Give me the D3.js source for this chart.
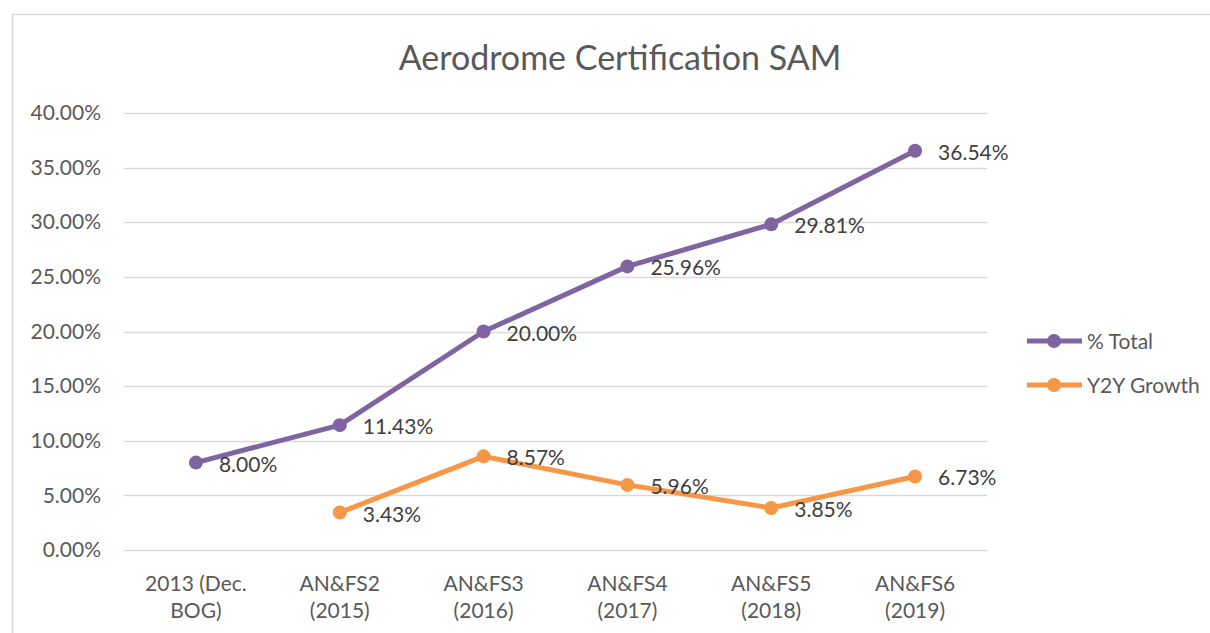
<!DOCTYPE html>
<html>
<head>
<meta charset="utf-8">
<script src="https://cdnjs.cloudflare.com/ajax/libs/d3/7.8.5/d3.min.js"></script>
<style>
  body { margin: 0; background: #fff; }
  svg { display: block; font-family: Lato, "Open Sans", sans-serif; }
</style>
</head>
<body>
<svg width="1210" height="633"></svg>
<script>
// chart data
const categories = [['2013 (Dec.', 'BOG)'], ['AN&FS2', '(2015)'], ['AN&FS3', '(2016)'],
    ['AN&FS4', '(2017)'], ['AN&FS5', '(2018)'], ['AN&FS6', '(2019)']];
const totalValues = [8.00, 11.43, 20.00, 25.96, 29.81, 36.54];
const growthValues = [null, 3.43, 8.57, 5.96, 3.85, 6.73];
const yTicks = [0, 5, 10, 15, 20, 25, 30, 35, 40];
const seriesNames = ['% Total', 'Y2Y Growth'];
const colors = ['#8064A2', '#F79646'];

const svg = d3.select('svg');
const plotLeft = 124, plotRight = 987, plotTop = 113, plotBottom = 550;

// outer chart border
svg.append('rect')
    .attr('x', 12.5).attr('y', 14.5)
    .attr('width', 1210).attr('height', 640)
    .attr('fill', 'none')
    .attr('stroke', '#d9d9d9')
    .attr('stroke-width', 1.5);

svg.append('text')
    .attr('x', 620).attr('y', 70)
    .attr('text-anchor', 'middle')
    .attr('font-size', '34px')
    .attr('fill', '#595959')
    .text('Aerodrome Certification SAM');

const x = d3.scaleBand().domain(d3.range(categories.length)).range([plotLeft, plotRight]);
const y = d3.scaleLinear().domain([0, 40]).range([plotBottom, plotTop]);
const cx = i => x(i) + x.bandwidth() / 2;

// gridlines
svg.append('g')
    .selectAll('line')
    .data(yTicks)
    .enter().append('line')
    .attr('x1', plotLeft).attr('x2', plotRight)
    .attr('y1', d => Math.round(y(d)) + 0.5)
    .attr('y2', d => Math.round(y(d)) + 0.5)
    .attr('stroke', '#d9d9d9')
    .attr('stroke-width', 1.5);

// y axis labels
const yAxis = svg.append('g')
    .attr('transform', 'translate(' + plotLeft + ',0)')
    .call(d3.axisLeft(y).tickValues(yTicks).tickSize(0).tickPadding(23)
        .tickFormat(d => d.toFixed(2) + '%'));
yAxis.select('.domain').remove();
yAxis.selectAll('text')
    .attr('font-size', '21px')
    .attr('font-family', 'Lato, sans-serif')
    .attr('fill', '#595959');

// x axis labels (two lines)
const xAxis = svg.append('g')
    .attr('transform', 'translate(0,' + plotBottom + ')')
    .call(d3.axisBottom(x).tickSize(0).tickFormat(''));
xAxis.select('.domain').remove();
xAxis.selectAll('.tick').each(function (d) {
    const t = d3.select(this).append('text')
        .attr('text-anchor', 'middle')
        .attr('font-size', '21px')
        .attr('font-family', 'Lato, sans-serif')
        .attr('fill', '#595959');
    categories[d].forEach(function (line, k) {
        t.append('tspan').attr('x', 0).attr('y', 41 + k * 27).text(line);
    });
});

const line = d3.line()
    .defined(d => d.v !== null)
    .x(d => cx(d.i))
    .y(d => y(d.v));

[totalValues, growthValues].forEach(function (vals, s) {
    const pts = vals.map((v, i) => ({ i: i, v: v }));
    svg.append('path')
        .datum(pts)
        .attr('d', line)
        .attr('fill', 'none')
        .attr('stroke', colors[s])
        .attr('stroke-width', 5)
        .attr('stroke-linejoin', 'round');
    const g = svg.append('g');
    g.selectAll('circle')
        .data(pts.filter(d => d.v !== null))
        .enter().append('circle')
        .attr('cx', d => cx(d.i))
        .attr('cy', d => y(d.v))
        .attr('r', 7)
        .attr('fill', colors[s]);
    g.selectAll('text')
        .data(pts.filter(d => d.v !== null))
        .enter().append('text')
        .attr('x', d => cx(d.i) + 23)
        .attr('y', d => y(d.v) + 9)
        .attr('font-size', '21px')
        .attr('fill', '#404040')
        .text(d => d.v.toFixed(2) + '%');
});

// legend
const legend = svg.append('g');
seriesNames.forEach(function (name, s) {
    const ly = 341 + s * 44;
    legend.append('line')
        .attr('x1', 1027).attr('x2', 1082)
        .attr('y1', ly).attr('y2', ly)
        .attr('stroke', colors[s]).attr('stroke-width', 5);
    legend.append('circle')
        .attr('cx', 1054).attr('cy', ly).attr('r', 7)
        .attr('fill', colors[s]);
    legend.append('text')
        .attr('x', 1087).attr('y', ly + 8)
        .attr('font-size', '21px')
        .attr('fill', '#595959')
        .text(name);
});
</script>
</body>
</html>
